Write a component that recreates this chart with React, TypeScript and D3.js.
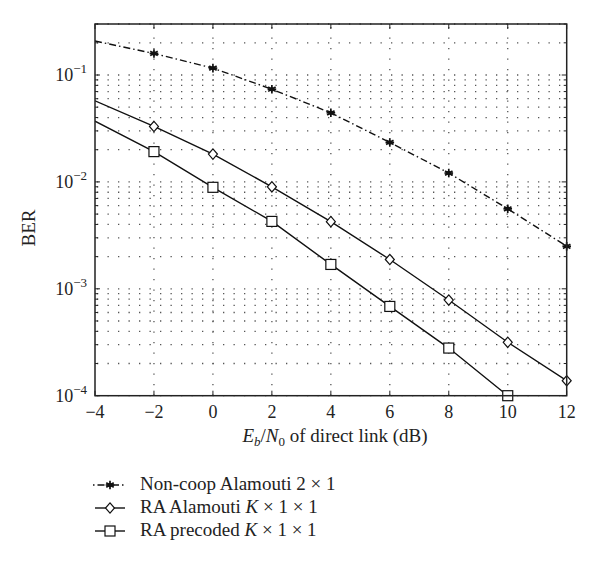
import React from "react";
import * as d3 from "d3";

// Eb/N0 of direct link (dB)
const snr = [-4, -2, 0, 2, 4, 6, 8, 10, 12];
const nonCoop = [0.208, 0.159, 0.116, 0.0736, 0.0443, 0.0234, 0.0121, 0.0056, 0.0025];
const raAlamouti = [0.0573, 0.033, 0.0182, 0.009, 0.00425, 0.00188, 0.000785, 0.000316, 0.000138];
const raPrecoded = [0.037, 0.0192, 0.0089, 0.00427, 0.00169, 0.000684, 0.000279, 0.0001];
const xTicks = [-4, -2, 0, 2, 4, 6, 8, 10, 12];
const yDecades = [-4, -3, -2, -1];

const W = 600;
const H = 564;
const FONT = "'Liberation Serif', 'DejaVu Serif', serif";

const x = d3.scaleLinear().domain([-4, 12]).range([95, 566.7]);
const y = d3.scaleLog().domain([1e-4, 0.3]).range([395.7, 24]);

// minor grid values: 1..9 x each decade, inside domain
const yMinor: number[] = [];
yDecades.forEach(d => {
  for (let m = 1; m <= 9; m++) {
    const v = m * Math.pow(10, d);
    if (v >= 1e-4 && v <= 0.3 + 1e-9) yMinor.push(v);
  }
});

const line = d3
  .line<[number, number]>()
  .x(d => x(d[0]))
  .y(d => y(d[1]));

function Star({ cx, cy }: { cx: number; cy: number }) {
  const r = 4.3;
  const arms = [0, 60, 120].map(a => {
    const t = (a * Math.PI) / 180 + Math.PI / 2;
    return (
      <line
        key={a}
        x1={cx - r * Math.cos(t)}
        y1={cy - r * Math.sin(t)}
        x2={cx + r * Math.cos(t)}
        y2={cy + r * Math.sin(t)}
        stroke="#111"
        strokeWidth={1.7}
      />
    );
  });
  return (
    <g>
      {arms}
      <line x1={cx - r} y1={cy} x2={cx + r} y2={cy} stroke="#111" strokeWidth={1.7} />
      <circle cx={cx} cy={cy} r={2.2} fill="#111" />
    </g>
  );
}

function Diamond({ cx, cy }: { cx: number; cy: number }) {
  const w = 4.5;
  const h = 5.2;
  return (
    <path
      d={`M${cx},${cy - h}L${cx + w},${cy}L${cx},${cy + h}L${cx - w},${cy}Z`}
      fill="white"
      stroke="#111"
      strokeWidth={1.2}
    />
  );
}

function Square({ cx, cy }: { cx: number; cy: number }) {
  const s = 5;
  return (
    <rect x={cx - s} y={cy - s} width={2 * s} height={2 * s} fill="white" stroke="#111" strokeWidth={1.2} />
  );
}

export default function App() {
  const pts = (vals: number[]) => vals.map((v, i) => [snr[i], v] as [number, number]);
  const left = x.range()[0];
  const right = x.range()[1];
  const top = y.range()[1];
  const bottom = y.range()[0];

  const series = [
    { name: "nonCoop", data: pts(nonCoop), dash: "7 3 1.5 3", Marker: Star },
    { name: "raAlamouti", data: pts(raAlamouti), dash: undefined, Marker: Diamond },
    { name: "raPrecoded", data: pts(raPrecoded), dash: undefined, Marker: Square }
  ];

  return (
    <svg
      width={W}
      height={H}
      style={{ position: "absolute", left: 0, top: 0, background: "white" }}
      fontFamily={FONT}
    >
      <rect width={W} height={H} fill="white" />
      <defs>
        <clipPath id="plotClip">
          <rect x={left} y={top} width={right - left} height={bottom - top} />
        </clipPath>
      </defs>

      {/* grid */}
      <g stroke="#555" strokeWidth={1.3} strokeDasharray="1.3 9.2">
        {yMinor.map(v => (
          <line key={"h" + v} x1={left + 2} x2={right} y1={y(v)} y2={y(v)} />
        ))}
        {xTicks.slice(1, -1).map(t => (
          <line key={"v" + t} x1={x(t)} x2={x(t)} y1={top + 3} y2={bottom} />
        ))}
      </g>

      {/* ticks */}
      <g stroke="#222" strokeWidth={1}>
        {xTicks.map(t => (
          <g key={"xt" + t}>
            <line x1={x(t)} x2={x(t)} y1={bottom} y2={bottom - 5} />
            <line x1={x(t)} x2={x(t)} y1={top} y2={top + 5} />
          </g>
        ))}
        {yMinor.map(v => {
          const major = Math.abs(Math.log10(v) - Math.round(Math.log10(v))) < 1e-6;
          const len = major ? 5 : 3;
          return (
            <g key={"yt" + v}>
              <line x1={left} x2={left + len} y1={y(v)} y2={y(v)} />
              <line x1={right} x2={right - len} y1={y(v)} y2={y(v)} />
            </g>
          );
        })}
      </g>

      {/* series */}
      <g clipPath="url(#plotClip)">
        {series.map(s => (
          <path
            key={s.name}
            d={line(s.data) || ""}
            fill="none"
            stroke="#111"
            strokeWidth={1.4}
            strokeDasharray={s.dash}
          />
        ))}
      </g>
      {series.map(s =>
        s.data.slice(1).map(d => <s.Marker key={s.name + d[0]} cx={x(d[0])} cy={y(d[1])} />)
      )}

      {/* frame */}
      <rect x={left} y={top} width={right - left} height={bottom - top} fill="none" stroke="#222" strokeWidth={1.5} />

      {/* x tick labels */}
      <g fontSize={18} fill="#222" textAnchor="middle">
        {xTicks.map(t => (
          <text key={"xl" + t} x={x(t)} y={bottom + 22}>
            {t < 0 ? "\u2212" + Math.abs(t) : t}
          </text>
        ))}
      </g>

      {/* y tick labels */}
      <g fill="#222" textAnchor="end">
        {yDecades.map(d => (
          <text key={"yl" + d} x={87} y={y(Math.pow(10, d)) + 6} fontSize={18}>
            10
            <tspan fontSize={13} dy={-8}>
              {"\u2212" + Math.abs(d)}
            </tspan>
          </text>
        ))}
      </g>

      {/* axis titles */}
      <text
        transform={`translate(35,228) rotate(-90)`}
        textAnchor="middle"
        fontSize={19}
        fill="#222"
      >
        BER
      </text>
      <text x={335} y={442} textAnchor="middle" fontSize={19} fill="#222">
        <tspan fontStyle="italic">E</tspan>
        <tspan fontStyle="italic" fontSize={13} dy={4}>b</tspan>
        <tspan dy={-4}>/</tspan>
        <tspan fontStyle="italic">N</tspan>
        <tspan fontSize={13} dy={4}>0</tspan>
        <tspan dy={-4}> of direct link (dB)</tspan>
      </text>

      {/* legend */}
      <g fontSize={19} fill="#222">
        {[
          { y: 485, Marker: Star, dash: "7 3 1.5 3", label: (<><tspan>Non-coop Alamouti 2 × 1</tspan></>) },
          { y: 508, Marker: Diamond, dash: undefined, label: (<><tspan>RA Alamouti </tspan><tspan fontStyle="italic">K</tspan><tspan> × 1 × 1</tspan></>) },
          { y: 531, Marker: Square, dash: undefined, label: (<><tspan>RA precoded </tspan><tspan fontStyle="italic">K</tspan><tspan> × 1 × 1</tspan></>) }
        ].map((item, i) => (
          <g key={"lg" + i}>
            <line
              x1={i === 0 ? 93 : 95}
              x2={125}
              y1={item.y}
              y2={item.y}
              stroke="#111"
              strokeWidth={1.4}
              strokeDasharray={item.dash ? "1.5 3 7 3" : undefined}
            />
            <item.Marker cx={110} cy={item.y} />
            <text x={140} y={item.y + 5}>
              {item.label}
            </text>
          </g>
        ))}
      </g>
    </svg>
  );
}
